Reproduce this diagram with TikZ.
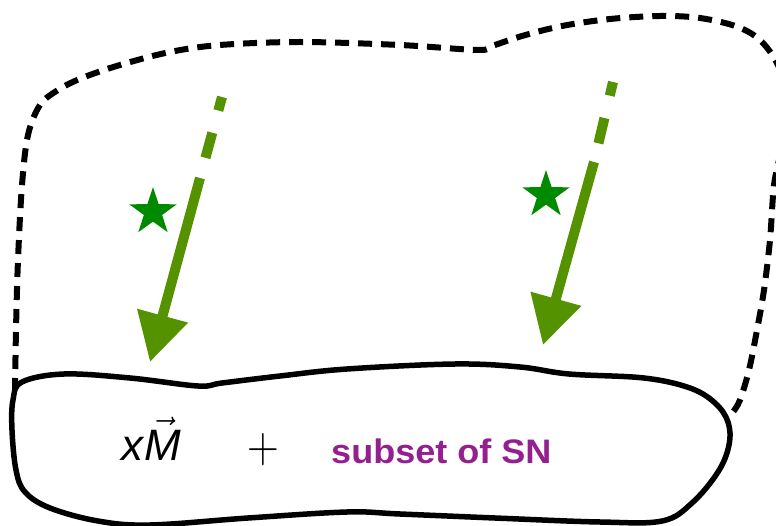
\RequirePackage{fix-cm}
\documentclass[tikz,border=0pt]{standalone}
\usepackage{fontspec}
\setmainfont{Liberation Sans}
\usetikzlibrary{arrows.meta,shapes.geometric}
\definecolor{arrowgreen}{RGB}{84,146,0}
\definecolor{stargreen}{RGB}{0,138,0}
\definecolor{snpurple}{RGB}{148,32,144}
\tikzset{
  outline/.style={line width=6pt, dash pattern=on 14pt off 9pt, black},
  blob/.style={line width=5.5pt, black, fill=white},
  arrowdash/.style={line width=10pt, arrowgreen, dash pattern=on 14pt off 23pt on 26pt off 30pt},
  arrowsolid/.style={line width=10pt, arrowgreen, -{Triangle[length=48pt,width=50pt]}},
  starmark/.style={star, star points=5, star point ratio=2.6, minimum size=50pt, inner sep=0pt, fill=stargreen, draw=none}
}
\begin{document}
\begin{tikzpicture}[x=1pt,y=-1pt]
\clip (0,0) rectangle (776,526);
% dashed outer outline
\draw[outline] plot[smooth, tension=0.55] coordinates {
 (15,392) (16,330) (18,260) (22,185) (28,135) (40,105) (58,90) (82,78) (120,65) (170,52)
 (220,45) (300,42) (400,45) (478,50) (492,46) (522,36) (562,26) (610,19) (660,16) (700,18)
 (738,27) (762,42) (780,70) (786,110) (781,150) (774,185) (770,240) (764,290) (757,330)
 (749,370) (740,400) (733,412)};
% bottom blob
\draw[blob] plot[smooth cycle, tension=0.6] coordinates {
 (22,382) (64,374) (130,378) (198,386) (222,383) (280,376) (347,369) (455,364) (520,367)
 (569,374) (644,378) (690,388) (715,403) (728,422) (729,445) (718,472) (692,503) (662,521)
 (600,522) (495,518) (400,514) (347,512) (248,518) (150,525) (98,521) (50,508) (25,492)
 (16,470) (12,430) (13,400)};
% arrows
\coordinate (la) at (222,97);
\coordinate (lb) at (200,178);
\coordinate (lc) at (150,362);
\coordinate (ra) at (613,82);
\coordinate (rb) at (594,162);
\coordinate (rc) at (543,345);
\draw[arrowdash] (la) -- (lb);
\draw[arrowsolid] (lb) -- (lc);
\draw[arrowdash] (ra) -- (rb);
\draw[arrowsolid] (rb) -- (rc);
% stars
\node[starmark] (ls) at (153,212) {};
\node[starmark] (rs) at (546,195) {};
% text
\node[anchor=base west, inner sep=0pt, font=\fontsize{44}{44}\selectfont] (xm) at (121,460)
  {\itshape x\kern1pt$\vec{\mbox{\itshape M}}$};
\node[inner sep=0pt, yscale=1.17, font=\fontsize{44}{44}\selectfont] (plus) at (263,450) {$+$};
\node[anchor=base west, inner sep=0pt, xscale=1.06, text=snpurple, font=\fontsize{34}{34}\selectfont\bfseries] (sn) at (331,463) {subset of SN};
\end{tikzpicture}
\end{document}
